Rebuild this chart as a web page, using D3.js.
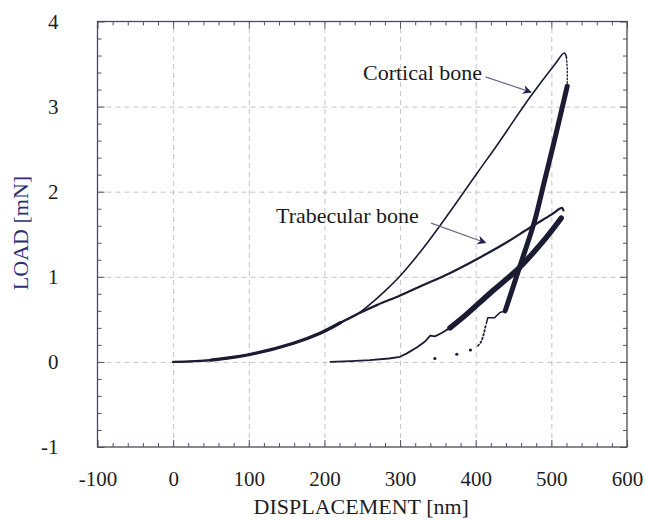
<!DOCTYPE html>
<html>
<head>
<meta charset="utf-8">
<script src="https://cdn.jsdelivr.net/npm/d3@7"></script>
<style>
  html, body { margin: 0; padding: 0; background: #fff; }
  svg { display: block; }
</style>
</head>
<body>
<svg id="chart" width="646" height="521"></svg>
<script>
// ---------- data ----------
const xTicks = [-100, 0, 100, 200, 300, 400, 500, 600];
const yTicks = [-1, 0, 1, 2, 3, 4];
const xTickLabels = ["-100", "0", "100", "200", "300", "400", "500", "600"];
const yTickLabels = ["-1", "0", "1", "2", "3", "4"];

// Cortical bone: loading branch (displacement nm, load mN)
const corticalLoading = [
  [0, 0], [50, 0.02], [103, 0.09], [160, 0.22], [200, 0.36], [221, 0.46], [243, 0.56],
  [262, 0.69], [282, 0.85], [300, 1.01], [330, 1.33], [364, 1.74], [402, 2.22],
  [430, 2.57], [471, 3.1], [505, 3.5], [517, 3.63], [520, 3.58]
];
// small dotted drop at peak
const corticalPeakDrop = [[520, 3.58], [521, 3.45], [521, 3.26]];
// thick unloading
const corticalUnloading = [
  [521, 3.24], [504, 2.6], [491, 2.13], [478, 1.66], [462, 1.22], [449, 0.87], [439, 0.6]
];
// thin notch after unloading
const corticalNotch = [[439, 0.6], [432, 0.58], [425, 0.52], [416, 0.52], [414, 0.45]];
// dotted tail
const corticalTail = [
  [413, 0.42], [412, 0.38], [411, 0.34], [410, 0.31], [409, 0.28], [408, 0.25], [406, 0.22], [403, 0.19]
];
const corticalDots = [[393, 0.14], [375, 0.09], [346, 0.04]];

// Trabecular bone: loading branch
const trabecularLoading = [
  [0, 0], [50, 0.02], [103, 0.09], [159, 0.22], [195, 0.34], [221, 0.46], [243, 0.56],
  [270, 0.67], [300, 0.78], [330, 0.9], [365, 1.04], [402, 1.21], [440, 1.4],
  [472, 1.58], [500, 1.73], [514, 1.81], [516, 1.78]
];
// thick unloading
const trabecularUnloading = [
  [513, 1.69], [493, 1.46], [458, 1.11], [418, 0.8], [388, 0.56], [366, 0.4]
];
// thin tail with notch
const trabecularTail = [
  [366, 0.4], [355, 0.34], [346, 0.30], [340, 0.31], [337, 0.28], [333, 0.24],
  [322, 0.17], [309, 0.10], [300, 0.06], [285, 0.04], [260, 0.02], [235, 0.01], [208, 0.0]
];

const annotations = [
  { text: "Cortical bone", tx: 251, ty: 3.31, ax1: 413, ay1: 3.35, ax2: 473, ay2: 3.17 },
  { text: "Trabecular bone", tx: 136, ty: 1.63, ax1: 341, ay1: 1.63, ax2: 413, ay2: 1.40 }
];

// ---------- drawing ----------
const svg = d3.select("#chart");
const L = 97.5, R = 627, T = 21.5, B = 447;
const x = d3.scaleLinear().domain([-100, 600]).range([L, R]);
const y = d3.scaleLinear().domain([-1, 4]).range([B, T]);

svg.append("rect").attr("width", 646).attr("height", 521).attr("fill", "#fff");

const serif = "'Liberation Serif', 'Times New Roman', serif";
const ink = "#1b1b33";

// grid (dashed)
const gridX = xTicks.filter(v => v > -100 && v < 600);
const gridY = yTicks.filter(v => v > -1 && v < 4);
svg.append("g").attr("transform", `translate(0,${B})`)
  .call(d3.axisBottom(x).tickValues(gridX).tickSize(-(B - T)).tickFormat(""))
  .call(g => g.select(".domain").remove())
  .call(g => g.selectAll("line").attr("stroke", "#bdbdbd").attr("stroke-width", 0.9).attr("stroke-dasharray", "5,4"));
svg.append("g").attr("transform", `translate(${L},0)`)
  .call(d3.axisLeft(y).tickValues(gridY).tickSize(-(R - L)).tickFormat(""))
  .call(g => g.select(".domain").remove())
  .call(g => g.selectAll("line").attr("stroke", "#bdbdbd").attr("stroke-width", 0.9).attr("stroke-dasharray", "5,4"));

// minor ticks
const xMinor = d3.range(-100, 601, 20).filter(v => !xTicks.includes(v));
const yMinor = d3.range(-1, 4.001, 0.2).map(v => +v.toFixed(1)).filter(v => !yTicks.includes(v));
function styleTicks(g) {
  g.select(".domain").remove();
  g.selectAll("line").attr("stroke", "#555").attr("stroke-width", 1);
}
svg.append("g").attr("transform", `translate(0,${B})`).call(d3.axisBottom(x).tickValues(xMinor).tickSize(-4).tickFormat("")).call(styleTicks);
svg.append("g").attr("transform", `translate(0,${T})`).call(d3.axisTop(x).tickValues(xMinor).tickSize(-4).tickFormat("")).call(styleTicks);
svg.append("g").attr("transform", `translate(${L},0)`).call(d3.axisLeft(y).tickValues(yMinor).tickSize(-4).tickFormat("")).call(styleTicks);
svg.append("g").attr("transform", `translate(${R},0)`).call(d3.axisRight(y).tickValues(yMinor).tickSize(-4).tickFormat("")).call(styleTicks);
// major ticks
svg.append("g").attr("transform", `translate(0,${T})`).call(d3.axisTop(x).tickValues(xTicks).tickSize(-7).tickFormat("")).call(styleTicks);
svg.append("g").attr("transform", `translate(${R},0)`).call(d3.axisRight(y).tickValues(yTicks).tickSize(-7).tickFormat("")).call(styleTicks);

const xAxis = svg.append("g").attr("transform", `translate(0,${B})`)
  .call(d3.axisBottom(x).tickValues(xTicks).tickSize(-7).tickPadding(24)
    .tickFormat((d, i) => xTickLabels[i]));
xAxis.select(".domain").remove();
xAxis.selectAll("line").attr("stroke", "#555");
xAxis.selectAll("text").attr("font-family", serif).attr("font-size", 21).attr("fill", "#1e1e1e");

const yAxis = svg.append("g").attr("transform", `translate(${L},0)`)
  .call(d3.axisLeft(y).tickValues(yTicks).tickSize(-7).tickPadding(39)
    .tickFormat((d, i) => yTickLabels[i]));
yAxis.select(".domain").remove();
yAxis.selectAll("line").attr("stroke", "#555");
yAxis.selectAll("text").attr("font-family", serif).attr("font-size", 21).attr("fill", "#1e1e1e");

// frame
svg.append("rect").attr("x", L).attr("y", T).attr("width", R - L).attr("height", B - T)
  .attr("fill", "none").attr("stroke", "#4a4a5a").attr("stroke-width", 1.3);

// axis titles
svg.append("text").attr("x", (L + R) / 2 - 1).attr("y", 514).attr("text-anchor", "middle")
  .attr("font-family", serif).attr("font-size", 22).attr("fill", "#1e1e1e").text("DISPLACEMENT [nm]");
svg.append("text").attr("transform", "translate(28,233) rotate(-90)").attr("text-anchor", "middle")
  .attr("font-family", serif).attr("font-size", 22).attr("fill", "#2f2f72").text("LOAD [mN]");

// curves
const smooth = d3.line().x(d => x(d[0])).y(d => y(d[1])).curve(d3.curveCatmullRom.alpha(0.5));
const straight = d3.line().x(d => x(d[0])).y(d => y(d[1]));
const curves = svg.append("g").attr("fill", "none").attr("stroke", ink)
  .attr("stroke-linecap", "round").attr("stroke-linejoin", "round");

curves.append("path").datum(trabecularLoading).attr("d", smooth).attr("stroke-width", 2.2);
curves.append("path").datum(corticalLoading).attr("d", smooth).attr("stroke-width", 1.6);
curves.append("path").datum(corticalPeakDrop).attr("d", straight).attr("stroke-width", 1.3).attr("stroke-dasharray", "1.5,2");
curves.append("path").datum(corticalUnloading).attr("d", smooth).attr("stroke-width", 5);
curves.append("path").datum(corticalNotch).attr("d", straight).attr("stroke-width", 1.5);
curves.append("path").datum(corticalTail).attr("d", straight).attr("stroke-width", 1.8).attr("stroke-dasharray", "1.5,2.5");
curves.append("path").datum(trabecularUnloading).attr("d", smooth).attr("stroke-width", 5.5);
curves.append("path").datum(trabecularTail).attr("d", straight).attr("stroke-width", 1.8);
// thicker overlap of both loading branches near origin
curves.append("path").datum(trabecularLoading.slice(1, 6)).attr("d", smooth).attr("stroke-width", 3.2);
svg.append("g").selectAll("circle").data(corticalDots).join("circle")
  .attr("cx", d => x(d[0])).attr("cy", d => y(d[1])).attr("r", 1.6).attr("fill", ink);

// annotations
const defs = svg.append("defs");
defs.append("marker").attr("id", "arrow").attr("viewBox", "0 0 10 10").attr("refX", 9).attr("refY", 5)
  .attr("markerWidth", 13).attr("markerHeight", 9).attr("markerUnits", "userSpaceOnUse").attr("orient", "auto")
  .append("path").attr("d", "M0,0 L10,5 L0,10 L3,5 Z").attr("fill", "#23234f");

annotations.forEach(a => {
  svg.append("text").attr("x", x(a.tx)).attr("y", y(a.ty)).attr("font-family", serif)
    .attr("font-size", 22).attr("fill", "#1a1a1a").text(a.text);
  svg.append("line").attr("x1", x(a.ax1)).attr("y1", y(a.ay1)).attr("x2", x(a.ax2)).attr("y2", y(a.ay2))
    .attr("stroke", "#6a6a88").attr("stroke-width", 1.2).attr("marker-end", "url(#arrow)");
});
</script>
</body>
</html>
